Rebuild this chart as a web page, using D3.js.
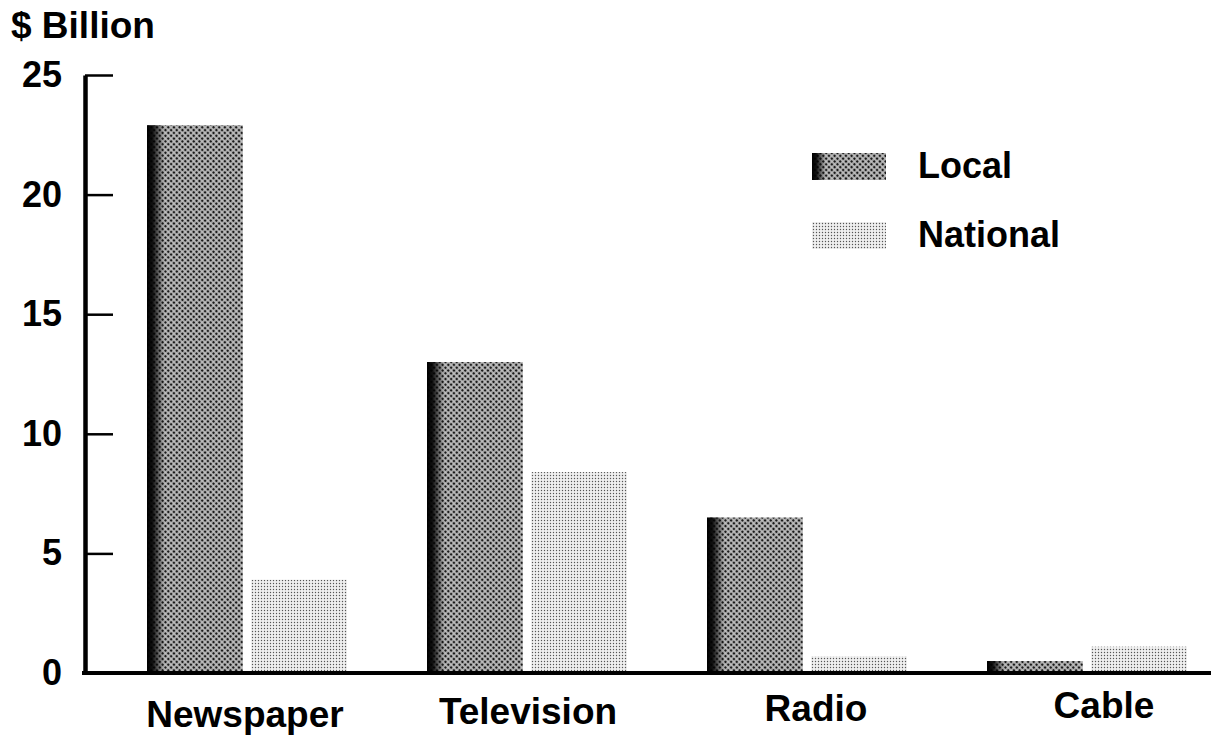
<!DOCTYPE html>
<html>
<head>
<meta charset="utf-8">
<script src="https://cdn.jsdelivr.net/npm/d3@7"></script>
<style>
  html, body { margin: 0; padding: 0; background: #fff; }
  svg { display: block; }
  text { font-family: "Liberation Sans", Arial, Helvetica, sans-serif; font-weight: bold; fill: #000; }
</style>
</head>
<body>
<div id="chart"></div>
<script>
// data
const categories = ["Newspaper", "Television", "Radio", "Cable"];
const seriesNames = ["Local", "National"];
const localValues = [22.9, 13.0, 6.5, 0.5];
const nationalValues = [3.9, 8.4, 0.7, 1.1];
const yTicks = [0, 5, 10, 15, 20, 25];
const yUnit = "$ Billion";

const width = 1211, height = 737;

const svg = d3.select("#chart").append("svg")
    .attr("width", width)
    .attr("height", height);

const defs = svg.append("defs");

// dark halftone for "Local"
const pLocal = defs.append("pattern")
    .attr("id", "halftoneDark")
    .attr("patternUnits", "userSpaceOnUse")
    .attr("width", 4).attr("height", 4)
    .attr("patternTransform", "rotate(45)");
pLocal.append("rect").attr("width", 4).attr("height", 4).attr("fill", "#bdbdbd");
pLocal.append("circle").attr("cx", 2).attr("cy", 2).attr("r", 1.35).attr("fill", "#1a1a1a");

// light dot screen for "National"
const pNat = defs.append("pattern")
    .attr("id", "halftoneLight")
    .attr("patternUnits", "userSpaceOnUse")
    .attr("width", 3).attr("height", 3);
pNat.append("rect").attr("width", 3).attr("height", 3).attr("fill", "#efefef");
pNat.append("circle").attr("cx", 1.5).attr("cy", 1.5).attr("r", 0.7).attr("fill", "#555");

// dark left edge on the local bars
const edge = defs.append("linearGradient")
    .attr("id", "leftEdge")
    .attr("x1", 0).attr("x2", 1).attr("y1", 0).attr("y2", 0);
edge.append("stop").attr("offset", 0).attr("stop-color", "#000").attr("stop-opacity", 1);
edge.append("stop").attr("offset", 0.06).attr("stop-color", "#000").attr("stop-opacity", 0.9);
edge.append("stop").attr("offset", 0.18).attr("stop-color", "#000").attr("stop-opacity", 0);
edge.append("stop").attr("offset", 1).attr("stop-color", "#000").attr("stop-opacity", 0);

const y = d3.scaleLinear().domain([0, 25]).range([673, 75]);

const x0 = d3.scaleBand().domain(categories).range([140, 1260]).padding(0);
const x1 = d3.scaleBand().domain(seriesNames).range([7, 207]).paddingInner(0.08);

const fills = { Local: "url(#halftoneDark)", National: "url(#halftoneLight)" };

const rows = categories.map((c, i) => ({
    cat: c,
    vals: [
        { series: "Local", value: localValues[i] },
        { series: "National", value: nationalValues[i] }
    ]
}));

const groups = svg.selectAll("g.group")
    .data(rows)
    .enter().append("g")
    .attr("class", "group")
    .attr("transform", d => `translate(${x0(d.cat)},0)`);

groups.selectAll("rect.bar")
    .data(d => d.vals)
    .enter().append("rect")
    .attr("class", "bar")
    .attr("x", d => x1(d.series))
    .attr("y", d => y(d.value))
    .attr("width", x1.bandwidth())
    .attr("height", d => y(0) - y(d.value))
    .attr("fill", d => fills[d.series]);

groups.selectAll("rect.edge")
    .data(d => d.vals.filter(v => v.series === "Local"))
    .enter().append("rect")
    .attr("class", "edge")
    .attr("x", d => x1(d.series))
    .attr("y", d => y(d.value))
    .attr("width", x1.bandwidth())
    .attr("height", d => y(0) - y(d.value))
    .attr("fill", "url(#leftEdge)");

// y axis: ticks point into the plot, labels on the left
const yAxis = d3.axisLeft(y)
    .tickValues(yTicks)
    .tickSizeInner(-28)
    .tickSizeOuter(0)
    .tickPadding(23)
    .tickFormat(d3.format("d"));

const gy = svg.append("g")
    .attr("transform", "translate(85,0)")
    .call(yAxis);
gy.select(".domain").attr("stroke", "#000").attr("stroke-width", 4.5);
gy.selectAll(".tick line").attr("stroke", "#000").attr("stroke-width", 2.5);
gy.selectAll(".tick text")
    .attr("font-size", 36)
    .attr("font-family", "Liberation Sans, Arial, sans-serif")
    .attr("font-weight", "bold")
    .attr("fill", "#000");

// baseline
svg.append("line")
    .attr("x1", 82).attr("x2", width)
    .attr("y1", y(0)).attr("y2", y(0))
    .attr("stroke", "#000").attr("stroke-width", 4);

// category labels (scan is slightly tilted, so they drift a little)
const labelShift = [-2, 1, 9, 17];
svg.selectAll("text.cat")
    .data(categories)
    .enter().append("text")
    .attr("class", "cat")
    .attr("x", (d, i) => x0(d) + 107 + labelShift[i])
    .attr("y", (d, i) => 727 - 0.0105 * (x0(d) - x0(categories[0])))
    .attr("text-anchor", "middle")
    .attr("font-size", 37)
    .text(d => d);

// unit label
svg.append("text")
    .attr("x", 11).attr("y", 38)
    .attr("font-size", 37)
    .text(yUnit);

// legend
const legend = svg.append("g").attr("transform", "translate(812,153)");
const li = legend.selectAll("g.item")
    .data(seriesNames)
    .enter().append("g")
    .attr("class", "item")
    .attr("transform", (d, i) => `translate(0,${i * 69})`);
li.append("rect")
    .attr("width", 74).attr("height", 27)
    .attr("fill", d => fills[d]);
li.filter(d => d === "Local").append("rect")
    .attr("width", 74).attr("height", 27)
    .attr("fill", "url(#leftEdge)");
li.append("text")
    .attr("x", 106).attr("y", 25)
    .attr("font-size", 36)
    .text(d => d);
</script>
</body>
</html>
